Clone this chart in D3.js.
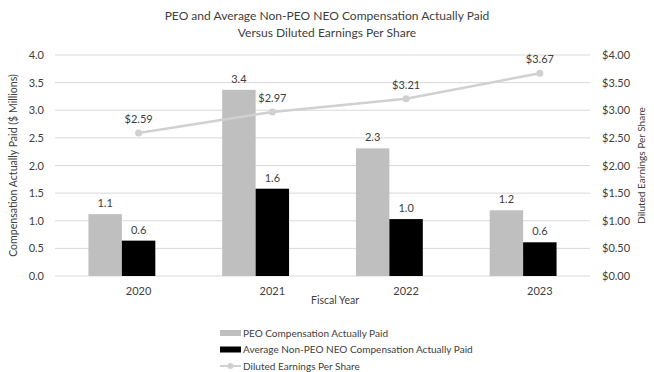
<!DOCTYPE html>
<html>
<head>
<meta charset="utf-8">
<script src="https://cdn.jsdelivr.net/npm/d3@7"></script>
<style>
  body { margin: 0; background: #fff; }
  svg text { font-family: Lato, "Open Sans", sans-serif; fill: #404040; }
</style>
</head>
<body>
<div class="chart"></div>
<script>
const years = ['2020', '2021', '2022', '2023'];
const peoPaid = [1.12, 3.37, 2.31, 1.19];
const neoPaid = [0.64, 1.58, 1.03, 0.61];
const eps = [2.59, 2.97, 3.21, 3.67];
const leftTicks = [0, 0.5, 1, 1.5, 2, 2.5, 3, 3.5, 4];
const rightTicks = [0, 0.5, 1, 1.5, 2, 2.5, 3, 3.5, 4];

const width = 654;
const height = 372;
const margin = {top: 55, right: 64, bottom: 96, left: 55};

const color = {
  peo: '#bfbfbf',
  neo: '#000000',
  eps: '#d0d0d0',
  grid: '#d9d9d9',
  text: '#404040',
};

const svg = d3.select('.chart')
  .append('svg')
    .attr('width', width)
    .attr('height', height);

const x = d3.scaleBand()
  .domain(years)
  .range([margin.left, width - margin.right])
  .paddingInner(0.5)
  .paddingOuter(0.25);

const y = d3.scaleLinear()
  .domain([0, 4])
  .range([height - margin.bottom, margin.top]);

const yRight = d3.scaleLinear()
  .domain([0, 4])
  .range([height - margin.bottom, margin.top]);

const barW = x.bandwidth() / 2;
// in the picture the year labels and the EPS points sit over the black bars
const shift = barW / 2;

// scale a text's font so it spans about the same width as in the picture
function fitSize(sel, target) {
  const len = sel.node().getComputedTextLength();
  const size = parseFloat(sel.style('font-size'));
  return size * target / len;
}

// gridlines
svg.append('g')
  .selectAll('line')
  .data(leftTicks)
  .enter().append('line')
    .attr('x1', margin.left)
    .attr('x2', width - margin.right)
    .attr('y1', d => y(d))
    .attr('y2', d => y(d))
    .attr('stroke', color.grid)
    .attr('stroke-width', 1);

// left axis
svg.append('g')
  .attr('transform', `translate(${margin.left - 8},0)`)
  .call(d3.axisLeft(y).tickValues(leftTicks).tickFormat(d3.format('.1f')).tickSize(0))
  .call(g => g.select('.domain').remove())
  .selectAll('text')
    .style('font-size', '11px');

// right axis
svg.append('g')
  .attr('transform', `translate(${width - margin.right + 9},0)`)
  .call(d3.axisRight(yRight).tickValues(rightTicks).tickFormat(d => '$' + d3.format('.2f')(d)).tickSize(0))
  .call(g => g.select('.domain').remove())
  .selectAll('text')
    .style('font-size', '11px');

// x axis labels
svg.append('g')
  .attr('transform', `translate(${shift},${height - margin.bottom + 8})`)
  .call(d3.axisBottom(x).tickSize(0))
  .call(g => g.select('.domain').remove())
  .selectAll('text')
    .style('font-size', '11px');

// bars
const grp = svg.append('g')
  .selectAll('g')
  .data(years)
  .enter().append('g');

grp.append('rect')
  .attr('x', d => x(d))
  .attr('y', (d, i) => y(peoPaid[i]))
  .attr('width', barW)
  .attr('height', (d, i) => y(0) - y(peoPaid[i]))
  .attr('fill', color.peo);

grp.append('rect')
  .attr('x', d => x(d) + barW)
  .attr('y', (d, i) => y(neoPaid[i]))
  .attr('width', barW)
  .attr('height', (d, i) => y(0) - y(neoPaid[i]))
  .attr('fill', color.neo);

grp.append('text')
  .attr('x', d => x(d) + barW / 2)
  .attr('y', (d, i) => y(peoPaid[i]) - 7)
  .attr('text-anchor', 'middle')
  .style('font-size', '11px')
  .text((d, i) => d3.format('.1f')(peoPaid[i]));

grp.append('text')
  .attr('x', d => x(d) + barW * 1.5)
  .attr('y', (d, i) => y(neoPaid[i]) - 7)
  .attr('text-anchor', 'middle')
  .style('font-size', '11px')
  .text((d, i) => d3.format('.1f')(neoPaid[i]));

// eps line
const cx = d => x(d) + x.bandwidth() / 2 + shift;

svg.append('path')
  .datum(years)
  .attr('d', d3.line().x(cx).y((d, i) => yRight(eps[i])))
  .attr('fill', 'none')
  .attr('stroke', color.eps)
  .attr('stroke-width', 2.5);

svg.append('g')
  .selectAll('circle')
  .data(years)
  .enter().append('circle')
    .attr('cx', cx)
    .attr('cy', (d, i) => yRight(eps[i]))
    .attr('r', 3.5)
    .attr('fill', color.eps);

svg.append('g')
  .selectAll('text')
  .data(years)
  .enter().append('text')
    .attr('x', cx)
    .attr('y', (d, i) => yRight(eps[i]) - 10)
    .attr('text-anchor', 'middle')
    .style('font-size', '11px')
    .text((d, i) => '$' + d3.format('.2f')(eps[i]));

// titles
const title1 = svg.append('text')
  .attr('x', 327)
  .attr('y', 20)
  .attr('text-anchor', 'middle')
  .style('font-size', '14px')
  .text('PEO and Average Non-PEO NEO Compensation Actually Paid');

const titleSize = fitSize(title1, 325);
title1.style('font-size', titleSize + 'px');

svg.append('text')
  .attr('x', 327)
  .attr('y', 37)
  .attr('text-anchor', 'middle')
  .style('font-size', titleSize + 'px')
  .text('Versus Diluted Earnings Per Share');

svg.append('text')
  .attr('x', 335)
  .attr('y', 304)
  .attr('text-anchor', 'middle')
  .style('font-size', '10.5px')
  .text('Fiscal Year');

const yTitle = svg.append('text')
  .attr('transform', `translate(17,${(y(0) + y(4)) / 2}) rotate(-90)`)
  .attr('text-anchor', 'middle')
  .style('font-size', '10.5px')
  .text('Compensation Actually Paid ($ Millions)');
yTitle.style('font-size', fitSize(yTitle, 183) + 'px');

const yTitleR = svg.append('text')
  .attr('transform', `translate(645,${(y(0) + y(4)) / 2}) rotate(-90)`)
  .attr('text-anchor', 'middle')
  .style('font-size', '10.5px')
  .text('Diluted Earnings Per Share');
yTitleR.style('font-size', fitSize(yTitleR, 117) + 'px');

// legend
const legendItems = [
  {label: 'PEO Compensation Actually Paid', type: 'bar', color: color.peo},
  {label: 'Average Non-PEO NEO Compensation Actually Paid', type: 'bar', color: color.neo},
  {label: 'Diluted Earnings Per Share', type: 'line', color: color.eps},
];

const legend = svg.append('g')
  .selectAll('g')
  .data(legendItems)
  .enter().append('g')
    .attr('transform', (d, i) => `translate(220,${333 + i * 16.5})`);

legend.filter(d => d.type === 'bar')
  .append('rect')
    .attr('x', 0)
    .attr('y', -3)
    .attr('width', 21)
    .attr('height', 6)
    .attr('fill', d => d.color);

legend.filter(d => d.type === 'line')
  .append('line')
    .attr('x1', 0)
    .attr('x2', 21)
    .attr('stroke', d => d.color)
    .attr('stroke-width', 2);

legend.filter(d => d.type === 'line')
  .append('circle')
    .attr('cx', 10.5)
    .attr('r', 3)
    .attr('fill', d => d.color);

const legendText = legend.append('text')
  .attr('x', 23)
  .attr('dy', '0.35em')
  .style('font-size', '10.5px')
  .text(d => d.label);

const legendSize = fitSize(legendText.filter((d, i) => i === 1), 230);
legendText.style('font-size', legendSize + 'px');
</script>
</body>
</html>
